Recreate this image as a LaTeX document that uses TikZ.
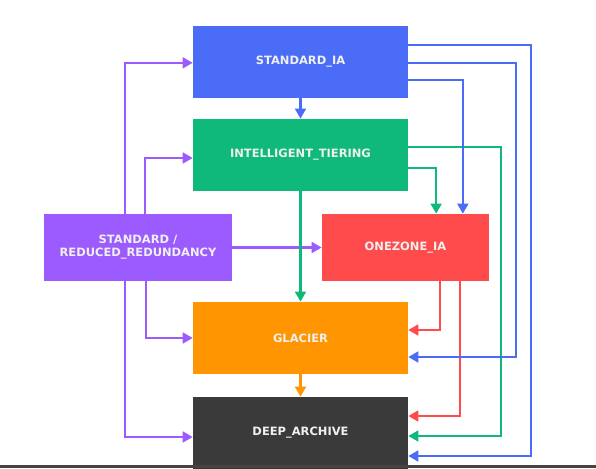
\documentclass[tikz,border=0pt]{standalone}
\usepackage{fontspec}
\setmainfont{DejaVu Sans}
\usetikzlibrary{arrows.meta}
\definecolor{cblue}{HTML}{4A6CF7}
\definecolor{cgreen}{HTML}{0FB97A}
\definecolor{cpurple}{HTML}{9B5BFF}
\definecolor{cred}{HTML}{FF4B4B}
\definecolor{corange}{HTML}{FF9500}
\definecolor{cdark}{HTML}{3A3A3A}
\tikzstyle{box}=[rectangle,
                 inner sep=0pt,
                 align=center,
                 text=white!94!black,
                 font=\bfseries\fontsize{8.6}{9.75}\selectfont,
                 minimum width=161.25pt,
                 minimum height=54pt]
\tikzstyle{link}=[line width=1.8pt,-{Triangle[length=7.5pt,width=8pt]}]

\begin{document}
\begin{tikzpicture}[x=0.75pt,y=-0.75pt]
    \useasboundingbox (0,0) rectangle (596,468);
    \node[box,fill=cblue] (sia) at (300.5,61.5) {STANDARD\_IA};
    \node[box,fill=cgreen] (it) at (300.5,155) {INTELLIGENT\_TIERING};
    \node[box,fill=cpurple,minimum width=141pt,minimum height=50.25pt] (std) at (138,247.5) {STANDARD /\\REDUCED\_REDUNDANCY};
    \node[box,fill=cred,minimum width=125.25pt,minimum height=50.25pt] (oz) at (405.5,247.5) {ONEZONE\_IA};
    \node[box,fill=corange] (gl) at (300.5,338) {GLACIER};
    \node[box,fill=cdark] (da) at (300.5,433) {DEEP\_ARCHIVE};

    \draw[link,cpurple] ([xshift=-9.75pt]std.north) |- ([yshift=-1pt]sia.west);
    \draw[link,cpurple] ([xshift=5.25pt]std.north) |- ([yshift=-2.25pt]it.west);
    \draw[link,cpurple] (std.east) -- (oz.west);
    \draw[link,cpurple] ([xshift=6pt]std.south) |- (gl.west);
    \draw[link,cpurple] ([xshift=-9.75pt]std.south) |- ([yshift=-3pt]da.west);

    \draw[link,cgreen] (it.south) -- (gl.north);
    \draw[link,cgreen] ([yshift=6pt]it.east) -- ++(93,0) |- ([yshift=-2.25pt]da.east);
    \draw[link,cgreen] ([yshift=-9.75pt]it.east) -| ([xshift=23pt]oz.north);

    \draw[link,cred] ([xshift=26pt]oz.south) |- ([yshift=6pt]gl.east);
    \draw[link,cred] ([xshift=41pt]oz.south) |- ([yshift=12.75pt]da.east);

    \draw[link,corange] (gl.south) -- (da.north);

    \draw[link,cblue] (sia.south) -- (it.north);
    \draw[link,cblue] ([yshift=12.4pt]sia.east) -- ++(123,0) |- ([yshift=-17.25pt]da.east);
    \draw[link,cblue] ([yshift=-1.1pt]sia.east) -- ++(108,0) |- ([yshift=-14.25pt]gl.east);
    \draw[link,cblue] ([yshift=-13.9pt]sia.east) -| ([xshift=43pt]oz.north);

    \fill[cdark!95!white] (0,465) rectangle (596,468);
\end{tikzpicture}
\end{document}
